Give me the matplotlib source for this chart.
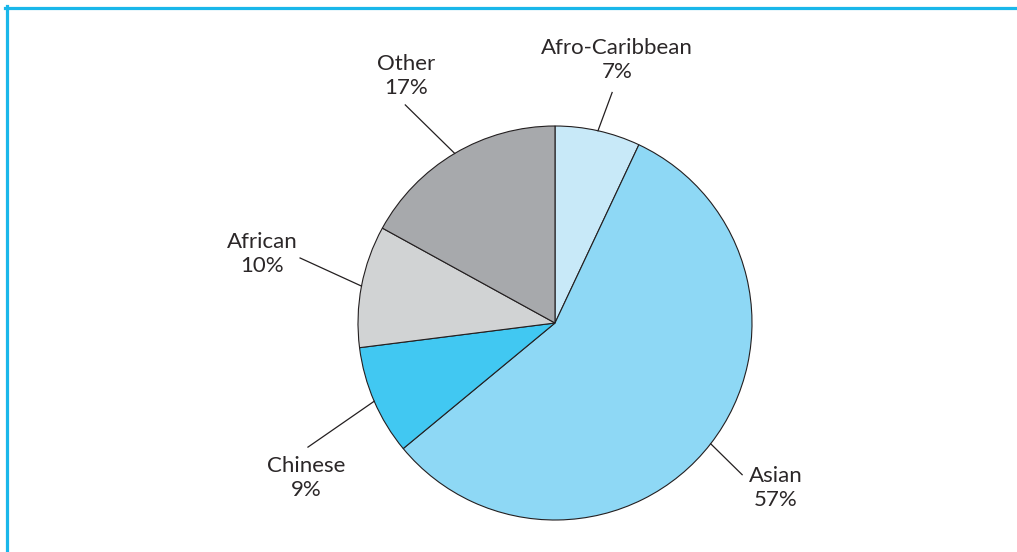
import numpy as np
import matplotlib
matplotlib.use("Agg")
import matplotlib.pyplot as plt
from matplotlib.lines import Line2D

plt.rcParams["font.family"] = ["Lato", "DejaVu Sans"]

labels = ["Afro-Caribbean", "Asian", "Chinese", "African", "Other"]
shares = [7, 57, 9, 10, 17]
colors = ["#C8E9F8", "#8ED8F5", "#41C8F2", "#D1D3D4", "#A7A9AC"]

# label placement (data units, pie radius = 1)
label_xy = [(0.315, 1.335), (1.122, -0.838), (-1.264, -0.787), (-1.487, 0.35), (-0.756, 1.254)]
line_end = [(0.29, 1.17), (0.95, -0.77), (-1.254, -0.63), (-1.294, 0.33), (-0.76, 1.107)]

W, H = 1017, 552
fig = plt.figure(figsize=(W / 100, H / 100), dpi=100)
fig.patch.set_facecolor("white")
ax = fig.add_axes([0, 0, 1, 1])

wedges, _ = ax.pie(shares, colors=colors, startangle=90, counterclock=False,
                   wedgeprops=dict(edgecolor="#231F20", linewidth=0.8))

R = 197.0
cx, cy = 555.0, H - 323.0
ax.set_xlim(-cx / R, (W - cx) / R)
ax.set_ylim(-cy / R, (H - cy) / R)
ax.set_aspect("equal")
ax.axis("off")

for w, lab, s, (lx, ly), (ex, ey) in zip(wedges, labels, shares, label_xy, line_end):
    mid = np.deg2rad((w.theta1 + w.theta2) / 2)
    sx, sy = np.cos(mid), np.sin(mid)
    ax.plot([sx, ex], [sy, ey], color="#231F20", lw=0.9)
    ax.text(lx, ly, f"{lab}\n{s}%", ha="center", va="center", fontsize=16,
            color="#2b2728", linespacing=1.22)

# frame lines (top and left only)
blue = "#1AB7EA"
fig.add_artist(Line2D([5 / W, 1], [1 - 7.5 / H, 1 - 7.5 / H], color=blue, lw=2.3,
                      transform=fig.transFigure))
fig.add_artist(Line2D([6.5 / W, 6.5 / W], [0, 1 - 6 / H], color=blue, lw=2.3,
                      transform=fig.transFigure))

fig.savefig("out.png", dpi=100, facecolor="white")
